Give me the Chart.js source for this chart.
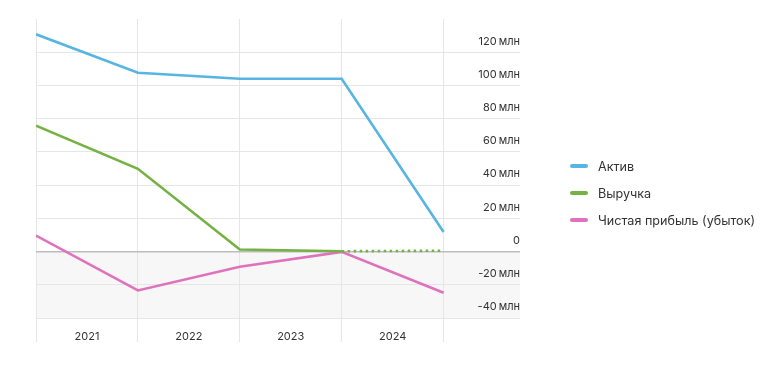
<!DOCTYPE html>
<html lang="ru">
<head>
<meta charset="utf-8">
<title>Актив, выручка, чистая прибыль</title>
<script src="https://cdn.jsdelivr.net/npm/chart.js@4/dist/chart.umd.min.js"></script>
<style>
  html, body { margin: 0; padding: 0; background: #fff; }
  .wrap { position: relative; width: 780px; height: 379px; }
  canvas { display: block; }
  #legend {
    position: absolute; left: 570px; top: 157px;
    margin: 0; padding: 0; list-style: none;
    font-family: Inter, "Noto Sans", sans-serif; font-size: 12.6px; color: #333;
  }
  #legend li { display: flex; align-items: center; height: 18px; margin-bottom: 9px; white-space: nowrap; }
  #legend .mark { width: 18px; height: 4px; border-radius: 2px; margin-right: 10px; }
</style>
</head>
<body>
<div class="wrap">
  <canvas id="finChart" width="780" height="379"></canvas>
  <ul id="legend"></ul>
</div>
<script>
// Values in millions; points sit on the year boundaries, year labels in between
const years = ['2021', '2022', '2023', '2024'];
const aktiv = [130.8, 107.6, 104.0, 104.0, 11.8];
const vyruchka = [75.8, 49.8, 1.2, 0.2, 0.5];
const pribyl = [9.6, -23.4, -9.2, -0.2, -24.8];
const yTicks = [-40, -20, 0, 20, 40, 60, 80, 100, 120];

const toPoints = arr => arr.map((v, i) => ({ x: i, y: v }));

// light band under the zero line
const negativeBand = {
    id: 'negativeBand',
    beforeDraw(chart) {
        const { ctx, chartArea, scales } = chart;
        const top = scales.y.getPixelForValue(0);
        const bottom = scales.y.getPixelForValue(-40);
        ctx.save();
        ctx.fillStyle = '#f7f7f7';
        ctx.fillRect(chartArea.left, top, chartArea.right - chartArea.left, bottom - top);
        ctx.restore();
    }
};

// legend as html next to the canvas (the canvas legend gets squeezed by the right axis)
const htmlLegend = {
    id: 'htmlLegend',
    afterUpdate(chart) {
        const list = document.getElementById('legend');
        list.innerHTML = '';
        const items = Chart.defaults.plugins.legend.labels.generateLabels(chart);
        items.forEach(item => {
            const li = document.createElement('li');
            const mark = document.createElement('span');
            mark.className = 'mark';
            mark.style.background = item.strokeStyle;
            const text = document.createElement('span');
            text.textContent = item.text;
            li.appendChild(mark);
            li.appendChild(text);
            list.appendChild(li);
        });
    }
};

const fontFamily = 'Inter, "Noto Sans", sans-serif';

new Chart(document.getElementById('finChart'), {
    type: 'line',
    data: {
        datasets: [
            {
                label: 'Актив',
                data: toPoints(aktiv),
                borderColor: '#58b4e2',
                backgroundColor: '#58b4e2',
                borderWidth: 2.6,
                pointRadius: 0,
                tension: 0
            },
            {
                label: 'Выручка',
                data: toPoints(vyruchka),
                borderColor: '#74b244',
                backgroundColor: '#74b244',
                borderWidth: 2.6,
                pointRadius: 0,
                tension: 0,
                segment: {
                    borderDash: ctx => ctx.p0DataIndex === 3 ? [2.5, 3.5] : undefined
                }
            },
            {
                label: 'Чистая прибыль (убыток)',
                data: toPoints(pribyl),
                borderColor: '#e072bd',
                backgroundColor: '#e072bd',
                borderWidth: 2.6,
                pointRadius: 0,
                tension: 0
            }
        ]
    },
    options: {
        responsive: false,
        animation: false,
        devicePixelRatio: 1,
        layout: { padding: { left: 36, top: 19, right: 260, bottom: 21 } },
        plugins: {
            tooltip: { enabled: false },
            legend: { display: false }
        },
        scales: {
            x: {
                type: 'linear',
                min: 0,
                max: 4.75,
                border: { display: false },
                afterBuildTicks(scale) {
                    const t = [];
                    for (let i = 0; i <= 8; i++) t.push({ value: i / 2 });
                    scale.ticks = t;
                },
                afterFit(scale) { scale.height = 40; },
                grid: {
                    color: ctx => (ctx.tick && ctx.tick.value % 1 === 0) ? '#e6e6e6' : 'rgba(0,0,0,0)',
                    lineWidth: 1,
                    drawTicks: true,
                    tickLength: 24
                },
                ticks: {
                    autoSkip: false,
                    maxRotation: 0,
                    padding: -12,
                    color: '#333',
                    font: { family: fontFamily, size: 11 },
                    callback: value => value % 1 === 0 ? '' : years[value - 0.5]
                }
            },
            y: {
                position: 'right',
                min: -40,
                max: 140,
                border: { display: false },
                afterBuildTicks(scale) {
                    scale.ticks = yTicks.map(v => ({ value: v }));
                },
                afterFit(scale) { scale.width = 0; },
                grid: {
                    color: ctx => ctx.tick && ctx.tick.value === 0 ? '#bdbdbd' : '#e6e6e6',
                    lineWidth: ctx => ctx.tick && ctx.tick.value === 0 ? 1.5 : 1,
                    drawTicks: false
                },
                ticks: {
                    mirror: true,
                    padding: 0,
                    labelOffset: -11,
                    color: '#333',
                    font: { family: fontFamily, size: 11 },
                    callback: value => value === 0 ? '0' : value + '\u2009млн'
                }
            }
        }
    },
    plugins: [negativeBand, htmlLegend]
});
</script>
</body>
</html>
